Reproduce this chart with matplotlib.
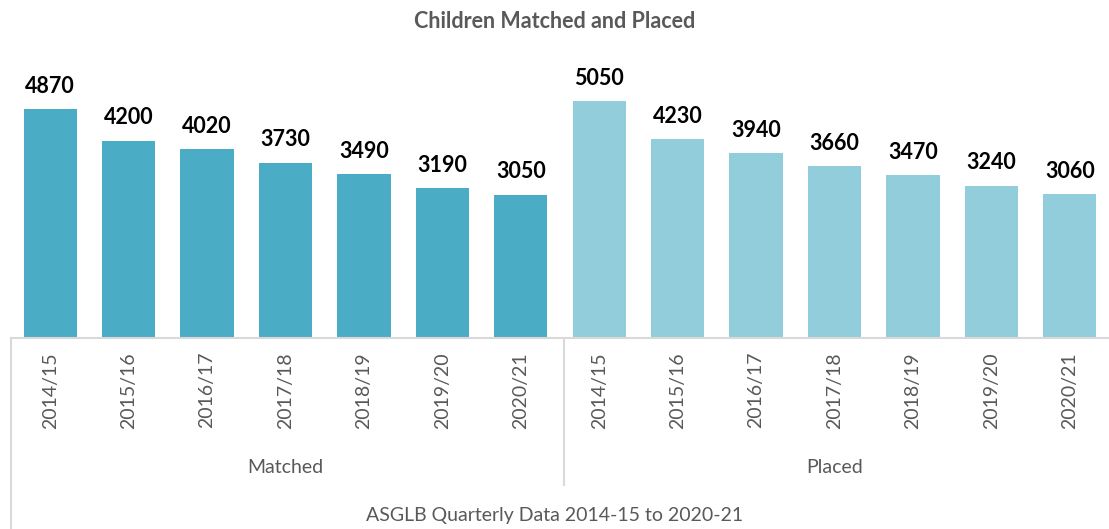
import matplotlib
matplotlib.use('Agg')
import matplotlib.pyplot as plt

years = ['2014/15', '2015/16', '2016/17', '2017/18', '2018/19', '2019/20', '2020/21']
matched = [4870, 4200, 4020, 3730, 3490, 3190, 3050]
placed = [5050, 4230, 3940, 3660, 3470, 3240, 3060]
groups = ['Matched', 'Placed']

plt.rcParams['font.family'] = ['Lato', 'DejaVu Sans']

fig = plt.figure(figsize=(11.09, 5.29), dpi=100)
ax = fig.add_axes([11 / 1109, 191 / 529, 1 - 11 / 1109, 298 / 529])

values = matched + placed
colors = ['#4BACC6'] * len(matched) + ['#92CDDC'] * len(placed)
x = list(range(len(values)))
bars = ax.bar(x, values, width=0.68, color=colors)

for xi, v in zip(x, values):
    ax.annotate(str(v), (xi, v), xytext=(0, 9), textcoords='offset points',
                ha='center', va='bottom', fontsize=15.5, fontweight='bold', color='black')

ax.set_xlim(-0.5, len(values) - 0.5)
ax.set_ylim(0, 6350)
ax.set_yticks([])
ax.set_xticks(x)
ax.set_xticklabels(years + years, rotation=90, fontsize=14, color='#595959')
ax.tick_params(axis='x', length=0, pad=10)

for side in ['top', 'right', 'left']:
    ax.spines[side].set_visible(False)
ax.spines['bottom'].set_color('#D9D9D9')
ax.spines['bottom'].set_linewidth(1.5)

tr = ax.get_xaxis_transform()
ax.plot([-0.5, -0.5], [0, -0.65], transform=tr, color='#D9D9D9', lw=1.5, clip_on=False)
ax.plot([6.55, 6.55], [0, -0.493], transform=tr, color='#D9D9D9', lw=1.5, clip_on=False)

ax.text(3, -0.433, groups[0], transform=tr, ha='center', va='center', fontsize=14, color='#595959')
ax.text(10, -0.433, groups[1], transform=tr, ha='center', va='center', fontsize=14, color='#595959')

fig.text(0.5, 1 - 22 / 529, 'Children Matched and Placed', ha='center', va='center',
         fontsize=15.5, fontweight='bold', color='#595959')
fig.text(0.5, 13 / 529, 'ASGLB Quarterly Data 2014-15 to 2020-21', ha='center', va='center',
         fontsize=14, color='#595959')

fig.savefig('out.png', dpi=100)
